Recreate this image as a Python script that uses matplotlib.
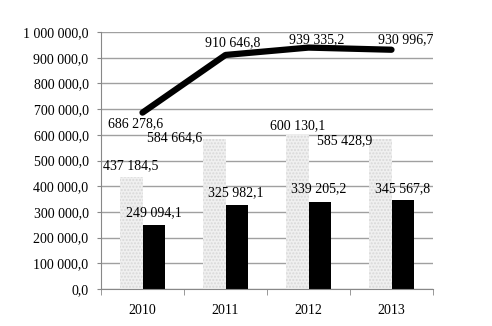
import matplotlib.pyplot as plt
import numpy as np

years = ['2010', '2011', '2012', '2013']
grey_vals = [437184.5, 584664.6, 600130.1, 585428.9]
black_vals = [249094.1, 325982.1, 339205.2, 345567.8]
line_vals = [686278.6, 910646.8, 939335.2, 930996.7]

# label offsets in pixels (dx, dy)
grey_off = [(0, 11), (-39, 1), (1, 9), (-35, -2)]
black_off = [(0, 12), (-1, 13), (-1, 13), (0, 12)]
line_off = [(-7, -11), (7, 12), (8, 8), (14, 10)]

plt.rcParams['font.family'] = 'Liberation Serif'
fs = 10


def fmt(v):
    s = '{:,.1f}'.format(v)
    return s.replace(',', ' ').replace('.', ',')


fig = plt.figure(figsize=(4.92, 3.26), dpi=100)
ax = fig.add_axes([101 / 492, 37 / 326, 332 / 492, 257 / 326])

ind = np.arange(len(years))
width = 0.277
ax.bar(ind - width / 2, grey_vals, width, color='#f0f0f0', edgecolor='#d8d8d8',
       hatch='.....', linewidth=0, zorder=2)
ax.bar(ind + width / 2, black_vals, width, color='black', zorder=2)
ax.plot(ind, line_vals, color='black', linewidth=4.5, solid_capstyle='round',
        solid_joinstyle='round', zorder=3)

for i in range(len(years)):
    ax.annotate(fmt(grey_vals[i]), (ind[i] - width / 2, grey_vals[i]),
                xytext=grey_off[i], textcoords='offset pixels',
                ha='center', va='center', fontsize=fs, zorder=4)
    ax.annotate(fmt(black_vals[i]), (ind[i] + width / 2, black_vals[i]),
                xytext=black_off[i], textcoords='offset pixels',
                ha='center', va='center', fontsize=fs, zorder=4)
    ax.annotate(fmt(line_vals[i]), (ind[i], line_vals[i]),
                xytext=line_off[i], textcoords='offset pixels',
                ha='center', va='center', fontsize=fs, zorder=4)

ax.set_xlim(-0.5, len(years) - 0.5)
ax.set_ylim(0, 1000000)
ax.set_yticks(np.arange(0, 1000001, 100000))
ax.set_yticklabels([fmt(v) for v in np.arange(0, 1000001, 100000)], fontsize=fs)
ax.set_xticks(ind)
ax.set_xticklabels(years, fontsize=fs)
ax.set_xticks(np.arange(-0.5, len(years)), minor=True)
ax.tick_params(axis='x', which='major', length=0, pad=11)
ax.tick_params(axis='x', which='minor', length=4, color='#888888')
ax.tick_params(axis='y', length=3, color='#888888', pad=6)

ax.grid(axis='y', color='#a0a0a0', linewidth=1, zorder=0)
ax.set_axisbelow(True)
for s in ['top', 'right']:
    ax.spines[s].set_visible(False)
for s in ['left', 'bottom']:
    ax.spines[s].set_color('#888888')

plt.savefig('out.png', dpi=100)
